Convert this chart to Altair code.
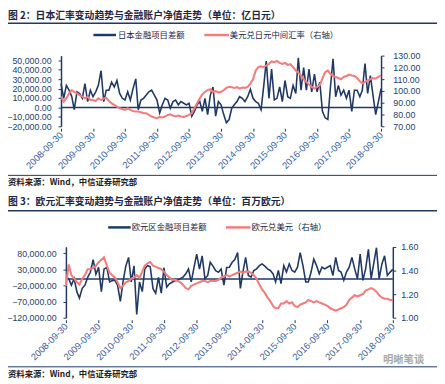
import altair as alt
import pandas as pd

W, H = 437, 376
NAVY = "#1f3864"
RED = "#f47c7c"
LAB = "#23426e"
XLAB = "#3d6199"
CJK = "Noto Sans CJK SC"
NUM = "Liberation Sans"

try:
    dates = pd.date_range("2008-09-30", periods=121, freq="ME").strftime("%Y-%m-%d").tolist()
except Exception:
    dates = pd.date_range("2008-09-30", periods=121, freq="M").strftime("%Y-%m-%d").tolist()

# 图2 日本金融项目差额（亿日元）
jp_fin = [25200, 9700, 23400, 18300, 11400, -2400, 16600, 14800, 9700, 25200,
          6200, 18300, 11400, 16600, 23400, 39000, 6200, 18300, 18300, 26900,
          21700, 28600, 14800, 9700, 7900, 16600, 7900, 20000, 30300, -2400,
          7900, 9700, 13100, 16600, 18300, 13100, 7900, -5900, 2800, 9700,
          7900, -700, 6200, 7900, 2800, 6200, 4500, 2800, 4500, -9300,
          -4100, 2800, 6200, -4100, 9700, -7600, 13100, 21700, -9300, 6200,
          2800, -7600, -16200, -12800, -700, 2800, 6200, 11400, 9700, 6200,
          11400, 19300, 9700, 6200, 4500, -2400, 23400, 49300, 9700, 40700,
          7900, 9700, 21700, 6200, 28600, 11400, 9700, 23400, 14800, 52800,
          18300, 42400, 18300, 40700, 16600, 35500, 16600, 26900, -4100, -11000,
          -12800, 20000, 51700, 11400, 23400, 13100, 18300, 9700, 18300, -4100,
          18300, 18300, 11400, 18300, 46600, 14800, 33800, 13100, -7600, 6200,
          20000]
# 美元兑日元中间汇率（右轴）
jp_fx = [95.1, 90.9, 93.7, 97.9, 100.7, 99.3, 97.9, 96.5, 95.1, 93.7,
         95.1, 92.3, 92.3, 91.5, 93.7, 92.3, 93.7, 94.2, 91.5, 89.5,
         88.1, 86.7, 85.3, 84.7, 83.9, 85.3, 83.9, 83.0, 82.5, 82.5,
         81.9, 81.1, 81.1, 79.7, 78.3, 77.5, 76.9, 78.0, 77.5, 78.3,
         79.7, 80.2, 79.1, 78.3, 79.1, 78.3, 78.0, 78.8, 79.7, 81.1,
         85.3, 89.5, 93.7, 97.0, 99.3, 100.7, 101.5, 99.3, 99.8, 98.7,
         99.3, 100.7, 102.6, 103.5, 103.2, 102.6, 103.2, 102.0, 102.9, 102.6,
         103.5, 106.3, 109.9, 117.4, 120.2, 121.0, 120.2, 121.6, 123.0, 125.0,
         124.4, 125.5, 123.8, 123.0, 123.8, 122.1, 122.7, 120.2, 117.4, 115.5,
         113.2, 109.9, 107.7, 105.4, 103.5, 102.0, 103.5, 104.9, 110.4, 116.0,
         117.4, 114.6, 112.7, 111.9, 111.0, 109.9, 111.9, 112.7, 113.8, 113.2,
         112.7, 111.0, 108.2, 106.3, 107.7, 109.0, 109.9, 111.0, 110.4, 111.9,
         113.2]

# 图3 欧元区金融项目差额（百万欧元）
eu_fin = [5000, 1000, -19000, 1000, -40000, -59000, -29000, -19000, 5000, 21000,
          60000, 15000, 36000, -39000, 31000, 36000, -9000, -5000, -4000, -19000,
          -69000, -8800, 40000, 67000, -9000, 41000, -110000, -9000, -39000, 31000,
          42000, 38000, -30000, -44000, 5000, -44000, 35000, -25000, -15000, -10000,
          -5000, -4000, 1000, 6000, 16000, 31000, -9000, 36000, 77000, 31000,
          72000, 1000, 11000, 52000, 40000, 26000, 21000, 31000, -19000, 36000,
          36500, 51800, 60000, 82000, -29000, 21500, 67000, 11000, 6000, 26500,
          31500, 41500, 46700, 40000, 31500, 26500, 16000, -9000, 26500, -14000,
          41500, 21500, 46700, 26500, 21500, 36500, 82000, 41500, -9000, -9000,
          21500, 61500, 41500, 16000, 36500, 31500, 36500, 41500, 11000, 67000,
          26500, 21500, -4000, 21500, 36500, 67000, 31500, 1000, 77000, -4000,
          31500, 92000, 1000, 46700, 97000, 1000, 46700, 72000, 11000, 21500,
          30000]
# 欧元兑美元（右轴）
eu_fx = [1.27, 1.45, 1.36, 1.33, 1.30, 1.28, 1.33, 1.36, 1.41, 1.41,
         1.42, 1.44, 1.47, 1.49, 1.51, 1.44, 1.38, 1.36, 1.34, 1.30,
         1.25, 1.27, 1.30, 1.31, 1.33, 1.34, 1.36, 1.34, 1.39, 1.44,
         1.46, 1.47, 1.44, 1.43, 1.42, 1.41, 1.39, 1.36, 1.34, 1.32,
         1.32, 1.31, 1.30, 1.28, 1.25, 1.24, 1.27, 1.28, 1.29, 1.30,
         1.31, 1.31, 1.30, 1.31, 1.31, 1.31, 1.32, 1.34, 1.35, 1.36,
         1.35, 1.36, 1.37, 1.38, 1.39, 1.38, 1.39, 1.39, 1.38, 1.36,
         1.33, 1.28, 1.24, 1.21, 1.17, 1.14, 1.10, 1.08, 1.08, 1.12,
         1.12, 1.14, 1.12, 1.13, 1.10, 1.09, 1.11, 1.12, 1.13, 1.15,
         1.14, 1.13, 1.14, 1.13, 1.12, 1.11, 1.10, 1.08, 1.07, 1.06,
         1.07, 1.08, 1.09, 1.11, 1.15, 1.17, 1.19, 1.18, 1.19, 1.20,
         1.23, 1.24, 1.25, 1.24, 1.22, 1.19, 1.17, 1.16, 1.16, 1.15,
         1.15]

years = list(range(2008, 2019))
jp_left_ticks = [-20000, -10000, 0, 10000, 20000, 30000, 40000, 50000]
jp_right_ticks = [70, 80, 90, 100, 110, 120, 130]
eu_left_ticks = [-120000, -70000, -20000, 30000, 80000]
eu_right_ticks = [1.0, 1.2, 1.4, 1.6]

title1 = "图 2：日本汇率变动趋势与金融账户净值走势（单位：亿日元）"
title2 = "图 3：欧元汇率变动趋势与金融账户净值走势（单位：百万欧元）"
leg1a, leg1b = "日本金融项目差额", "美元兑日元中间汇率（右轴）"
leg2a, leg2b = "欧元区金融项目差额", "欧元兑美元（右轴）"
source = "资料来源：Wind，中信证券研究部"
mark_txt = "明晰笔谈"

df_jp = pd.DataFrame({"date": dates, "fin": jp_fin, "fx": jp_fx})
df_eu = pd.DataFrame({"date": dates, "fin": eu_fin, "fx": eu_fx})
zero_df = pd.DataFrame({"d0": ["2008-09-30"], "d1": ["2018-09-30"], "v": [0]})


def dt(y):
    return alt.DateTime(year=y, month=9, date=30, utc=True)


def xscale(rng):
    return alt.Scale(type="utc", domain=[dt(2008), dt(2018)], range=rng)


def xaxis(offset):
    return alt.Axis(orient="bottom", offset=offset, values=[dt(y) for y in years],
                    labelExpr="utcFormat(datum.value, '%Y-%m-%d')",
                    labelAngle=-45, labelAlign="right", labelBaseline="middle",
                    labelFont=NUM, labelFontSize=9.5, labelColor=XLAB, labelPadding=2,
                    labelOverlap=False, domain=False, ticks=True, tickSize=3,
                    tickColor=NAVY, grid=False, title=None)


def yaxis(orient, offset, values, fmt, pad):
    return alt.Axis(orient=orient, offset=offset, values=values, format=fmt,
                    labelFont=NUM, labelFontSize=9, labelColor=LAB, labelPadding=pad,
                    domainColor=NAVY, domainWidth=1.5, tickColor=NAVY, tickSize=3,
                    tickWidth=1, grid=False, title=None)


def panel(df, xr, yr, ldom, rdom, xoff, loff, roff, lvals, rvals, lfmt, rfmt, lpad, rpad):
    xs = xscale(xr)
    ls = alt.Scale(domain=ldom, range=yr, nice=False, zero=False)
    rs = alt.Scale(domain=rdom, range=yr, nice=False, zero=False)
    zero = alt.Chart(zero_df).mark_rule(color=NAVY, strokeWidth=1.5).encode(
        x=alt.X("d0:T", scale=xs, axis=None), x2="d1:T",
        y=alt.Y("v:Q", scale=ls, axis=None))
    dark = alt.Chart(df).mark_line(color=NAVY, strokeWidth=1.6).encode(
        x=alt.X("date:T", scale=xs, axis=xaxis(xoff)),
        y=alt.Y("fin:Q", scale=ls, axis=yaxis("left", loff, lvals, lfmt, lpad)))
    red = alt.Chart(df).mark_line(color=RED, strokeWidth=2.1).encode(
        x=alt.X("date:T", scale=xs, axis=None),
        y=alt.Y("fx:Q", scale=rs, axis=yaxis("right", roff, rvals, rfmt, rpad)))
    return [zero, dark, red]


def text(t, x, y, size, color, weight="normal", font=CJK):
    return alt.Chart(pd.DataFrame({"t": [t]})).mark_text(
        align="left", baseline="middle", font=font, fontSize=size,
        fontWeight=weight, color=color).encode(
        x=alt.value(x), y=alt.value(y), text="t:N")


def hline(x1, x2, y, color, width):
    return alt.Chart(pd.DataFrame({"t": [0]})).mark_rule(
        color=color, strokeWidth=width).encode(
        x=alt.value(x1), x2=alt.value(x2), y=alt.value(y))


layers = []
# panel 1
layers += [text(title1, 0, 5, 10, "#1b2745", "bold"), hline(0, 437, 12, NAVY, 1.5)]
layers += [hline(87, 110, 24, NAVY, 2.5), text(leg1a, 112, 24, 8.5, "#1b2745"),
           hline(200, 225, 24, RED, 2.5), text(leg1b, 226, 24, 8.5, "#1b2745")]
layers += panel(df_jp, [54, 380], [117, 45], [-20000, 55000], [70, 130],
                119 - H, -54, 380 - W, jp_left_ticks, jp_right_ticks,
                ",.2f", ".2f", 7, 9)
layers += [hline(0, 437, 167, NAVY, 1), text(source, 0, 174, 8.5, "#222222", "bold")]
# panel 2
layers += [text(title2, 0, 194, 10, "#1b2745", "bold"), hline(0, 437, 203, NAVY, 1.5)]
layers += [hline(102, 125, 220, NAVY, 2.5), text(leg2a, 126, 220, 8.5, "#1b2745"),
           hline(222, 247, 220, RED, 2.5), text(leg2b, 248, 220, 8.5, "#1b2745")]
layers += panel(df_eu, [59, 392], [312, 239.7], [-120000, 100000], [1.0, 1.6],
                314 - H, -59, 392 - W, eu_left_ticks, eu_right_ticks,
                ",.2f", ".2f", 7, 5)
layers += [hline(0, 437, 362, NAVY, 1), text(source, 0, 369, 8.5, "#222222", "bold"),
           text(mark_txt, 382, 355, 10.5, "#a8a8a8", "bold")]

chart = alt.layer(*layers).resolve_scale(x="independent", y="independent").properties(
    width=W, height=H, autosize=alt.AutoSizeParams(type="none"), padding=0
).configure_view(stroke=None)

chart.save("out.html", embed_options={"renderer": "svg", "actions": False})
